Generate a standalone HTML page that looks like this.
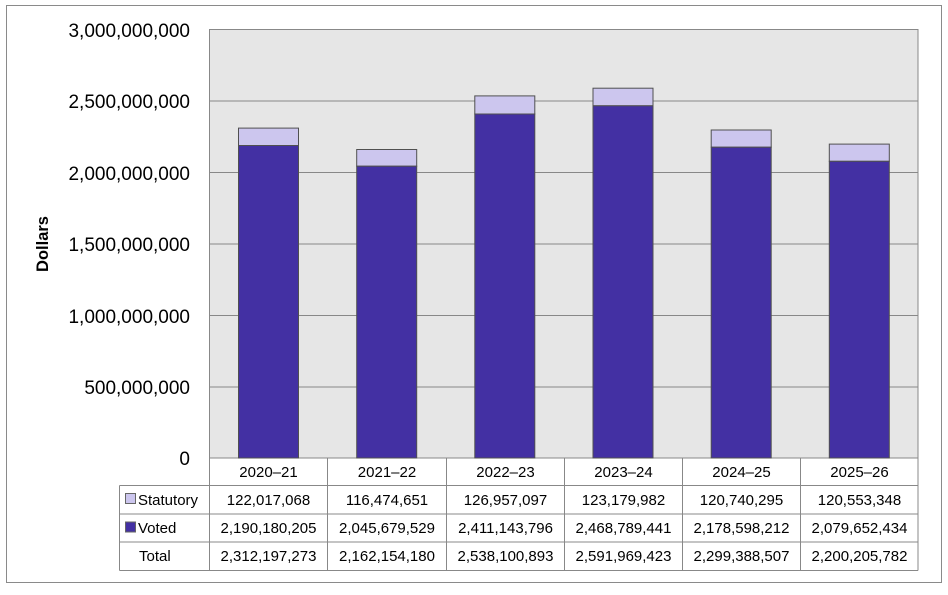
<!DOCTYPE html>
<html><head><meta charset="utf-8"><style>
body{margin:0;background:#fff}
text{font-family:"Liberation Sans",Arial,sans-serif;fill:#000}
</style></head><body>
<svg width="948" height="590" viewBox="0 0 948 590" xmlns="http://www.w3.org/2000/svg">
<rect x="6.5" y="5.5" width="935" height="577" fill="#fff" stroke="#8a8a8a"/>
<rect x="209.5" y="29.5" width="708.5" height="428.5" fill="#e6e6e6" stroke="#888"/>
<g stroke="#888" stroke-width="1">
<line x1="209.5" x2="918" y1="101" y2="101"/>
<line x1="209.5" x2="918" y1="172.5" y2="172.5"/>
<line x1="209.5" x2="918" y1="244" y2="244"/>
<line x1="209.5" x2="918" y1="315.5" y2="315.5"/>
<line x1="209.5" x2="918" y1="387" y2="387"/>
</g>
<g font-size="19" text-anchor="end">
<text x="190" y="37">3,000,000,000</text>
<text x="190" y="108">2,500,000,000</text>
<text x="190" y="180">2,000,000,000</text>
<text x="190" y="251">1,500,000,000</text>
<text x="190" y="323">1,000,000,000</text>
<text x="190" y="394">500,000,000</text>
<text x="190" y="465">0</text>
</g>
<text transform="translate(48,244) rotate(-90)" font-size="16.5" font-weight="bold" text-anchor="middle">Dollars</text>
<g stroke="#505050" stroke-width="1">
<rect x="238.5" y="128.1" width="60" height="17.4" fill="#ccc6ee"/><rect x="238.5" y="145.5" width="60" height="312.5" fill="#4330a3"/>
<rect x="356.7" y="149.5" width="60" height="16.7" fill="#ccc6ee"/><rect x="356.7" y="166.2" width="60" height="291.8" fill="#4330a3"/>
<rect x="474.8" y="95.9" width="60" height="18.1" fill="#ccc6ee"/><rect x="474.8" y="114" width="60" height="344" fill="#4330a3"/>
<rect x="593" y="88.2" width="60" height="17.6" fill="#ccc6ee"/><rect x="593" y="105.8" width="60" height="352.2" fill="#4330a3"/>
<rect x="711.2" y="130" width="60" height="17.2" fill="#ccc6ee"/><rect x="711.2" y="147.2" width="60" height="310.8" fill="#4330a3"/>
<rect x="829.3" y="144.1" width="60" height="17.2" fill="#ccc6ee"/><rect x="829.3" y="161.3" width="60" height="296.7" fill="#4330a3"/>
</g>
<g stroke="#888" stroke-width="1" fill="none">
<line x1="209.5" x2="209.5" y1="458" y2="570.5"/>
<line x1="327.5" x2="327.5" y1="458" y2="570.5"/>
<line x1="446.5" x2="446.5" y1="458" y2="570.5"/>
<line x1="564.5" x2="564.5" y1="458" y2="570.5"/>
<line x1="682.5" x2="682.5" y1="458" y2="570.5"/>
<line x1="800.5" x2="800.5" y1="458" y2="570.5"/>
<line x1="918" x2="918" y1="458" y2="570.5"/>
<line x1="119.5" x2="119.5" y1="485.5" y2="570.5"/>
<line x1="119.5" x2="918" y1="485.5" y2="485.5"/>
<line x1="119.5" x2="918" y1="514" y2="514"/>
<line x1="119.5" x2="918" y1="542" y2="542"/>
<line x1="119.5" x2="918" y1="570.5" y2="570.5"/>
</g>
<rect x="125.5" y="493.5" width="10" height="10" fill="#ccc6ee" stroke="#666"/>
<rect x="125.5" y="522" width="10" height="10" fill="#4330a3" stroke="#666"/>
<g font-size="15">
<text x="138" y="505">Statutory</text>
<text x="138" y="533">Voted</text>
<text x="139" y="561">Total</text>
</g>
<g font-size="15" text-anchor="middle">
<text x="268.5" y="477">2020–21</text><text x="387" y="477">2021–22</text><text x="505.5" y="477">2022–23</text><text x="623.5" y="477">2023–24</text><text x="741.5" y="477">2024–25</text><text x="859.5" y="477">2025–26</text>
<text x="268.5" y="505">122,017,068</text><text x="387" y="505">116,474,651</text><text x="505.5" y="505">126,957,097</text><text x="623.5" y="505">123,179,982</text><text x="741.5" y="505">120,740,295</text><text x="859.5" y="505">120,553,348</text>
<text x="268.5" y="533">2,190,180,205</text><text x="387" y="533">2,045,679,529</text><text x="505.5" y="533">2,411,143,796</text><text x="623.5" y="533">2,468,789,441</text><text x="741.5" y="533">2,178,598,212</text><text x="859.5" y="533">2,079,652,434</text>
<text x="268.5" y="561">2,312,197,273</text><text x="387" y="561">2,162,154,180</text><text x="505.5" y="561">2,538,100,893</text><text x="623.5" y="561">2,591,969,423</text><text x="741.5" y="561">2,299,388,507</text><text x="859.5" y="561">2,200,205,782</text>
</g>
</svg>
</body></html>
